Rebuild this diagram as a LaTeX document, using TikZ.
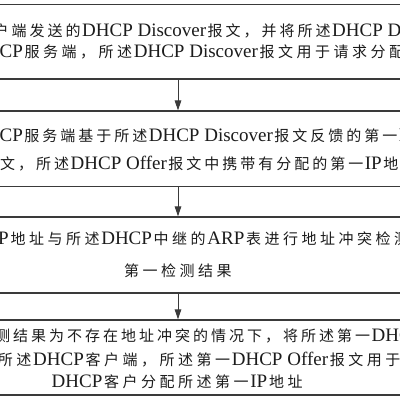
\documentclass[tikz,border=0pt]{standalone}
\usepackage{fontspec}
\setmainfont{Liberation Serif}
\newfontfamily\cjk{Noto Sans CJK SC}
\usepackage{tikz}
\usetikzlibrary{arrows.meta}

\definecolor{framegray}{HTML}{3A3A3A}
\definecolor{textgray}{HTML}{1C1C1C}

% each CJK glyph sits in a cell of fixed pitch
\newlength\zhpitch
\def\zhend{\zhend}
\def\zhloop#1{\ifx#1\zhend\else\hbox to\zhpitch{\hss#1\hss}\expandafter\zhloop\fi}
\newcommand\zh[2][18.5pt]{{\setlength\zhpitch{#1}\cjk\fontsize{15}{18}\selectfont\zhloop#2\zhend}}

\begin{document}
\begin{tikzpicture}[x=1pt, y=1pt,
  stepbox/.style={draw=framegray, line width=1.2pt, minimum width=640, inner sep=0},
  flow/.style={framegray, line width=1pt, -{Triangle[length=10pt, width=6.5pt]}},
  txt/.style={anchor=base west, inner sep=0, text=textgray, font=\fontsize{19}{22}\selectfont},
  mid/.style={txt, anchor=base}]
  \useasboundingbox (0,0) rectangle (400,-400);
  \fill[white] (0,0) rectangle (400,-400);
  \clip (0,0) rectangle (400,-400);

  % Boxes
  \node[stepbox, minimum height=74.5] (s1) at (178,-41.8) {};
  \node[stepbox, minimum height=75.5] (s2) at (178,-148.8) {};
  \node[stepbox, minimum height=76] (s3) at (178,-255) {};
  \node[stepbox, minimum height=75] (s4) at (178,-357.5) {};

  % Arrows
  \foreach \a/\b in {s1/s2, s2/s3, s3/s4}
    \draw[flow] (\a) -- (\b);

  % Step 1
  \node[txt] (s1a) at (-8,-36.3) {\zh[18pt]{户端发送的}DHCP Discover\zh[18pt]{报文，并将所述}DHCP Discover\zh{报文}};
  \node[txt] (s1b) at (-28,-57.8) {DHCP\zh{服务端，所述}DHCP Discover\zh{报文用于请求分配}IP};

  % Step 2
  \node[txt] (s2a) at (-28,-141.8) {DHCP\zh[18pt]{服务端基于所述}DHCP Discover\zh[18pt]{报文反馈的第一}DHCP};
  \node[txt] (s2b) at (-19.5,-169.8) {\zh[18pt]{报文，所述}DHCP Offer\zh[18pt]{报文中携带有分配的第一}IP\zh[18pt]{地址}};

  % Step 3
  \node[txt] (s3a) at (-8.3,-244.8) {IP\zh{地址与所述}DHCP\zh{中继的}ARP\zh{表进行地址冲突检测}};
  \node[mid] (s3b) at (178,-276.3) {\zh{第一检测结果}};

  % Step 4
  \node[txt] (s4a) at (-6.5,-341.3) {\zh[18pt]{测结果为不存在地址冲突的情况下，将所述第一}DHCP};
  \node[txt] (s4b) at (-4,-365.3) {\zh{所述}DHCP\zh{客户端，所述第一}DHCP Offer\zh{报文用于为}};
  \node[mid] (s4c) at (178,-387.8) {DHCP\zh{客户分配所述第一}IP\zh{地址}};
\end{tikzpicture}
\end{document}
